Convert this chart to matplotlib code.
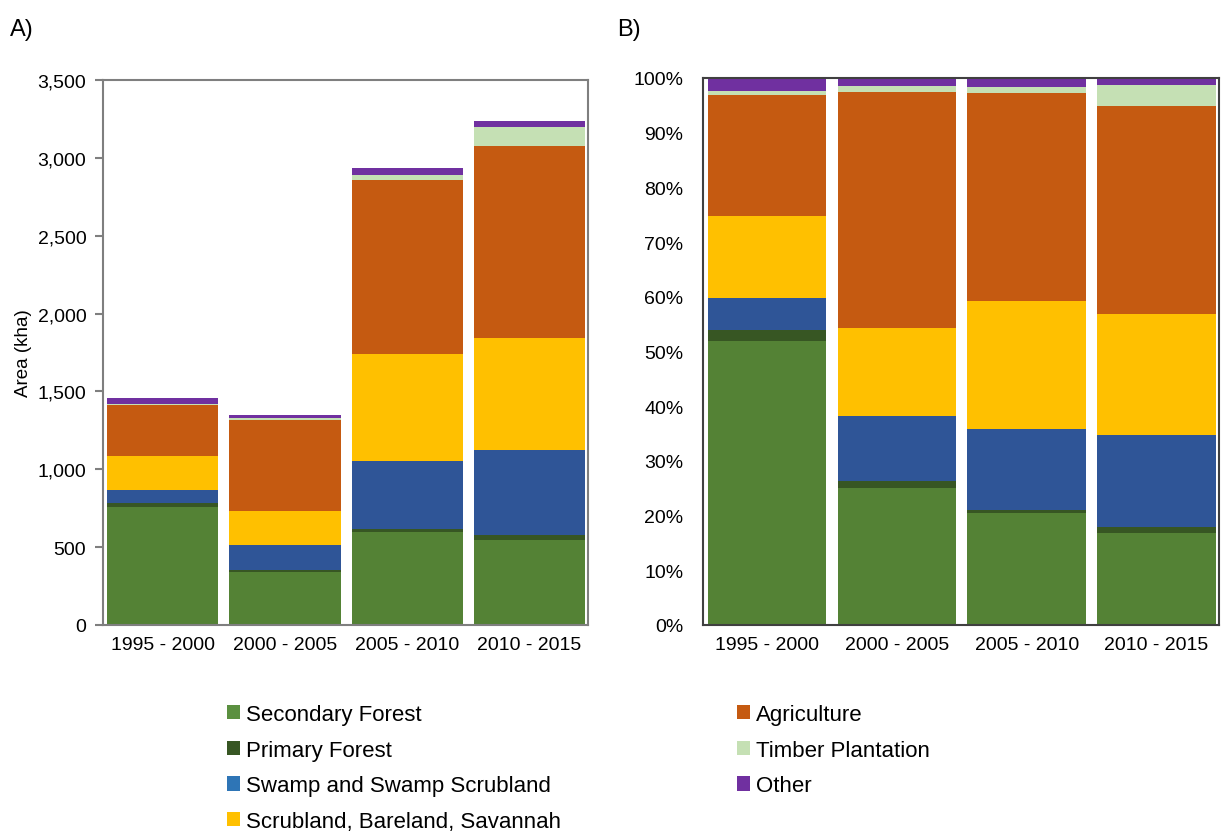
import numpy as np
import matplotlib.pyplot as plt
from matplotlib.patches import Patch
from matplotlib.ticker import FuncFormatter, PercentFormatter

plt.rcParams['font.family'] = ['Liberation Sans', 'DejaVu Sans']

# land cover converted per period (kha)
periods = ['1995 - 2000', '2000 - 2005', '2005 - 2010', '2010 - 2015']
secondary_forest = [755, 338, 600, 543]
primary_forest = [30, 17, 15, 38]
swamp = [85, 160, 440, 542]
scrubland = [218, 218, 685, 718]
agriculture = [323, 582, 1118, 1233]
timber = [10, 15, 33, 125]
other = [35, 20, 47, 40]

names = ['Secondary Forest', 'Primary Forest', 'Swamp and Swamp Scrubland',
         'Scrubland, Bareland, Savannah', 'Agriculture', 'Timber Plantation', 'Other']
series = [secondary_forest, primary_forest, swamp, scrubland, agriculture, timber, other]
colors = ['#548235', '#375623', '#2f5597', '#ffc000', '#c55a11', '#c5e0b4', '#7030a0']
legend_colors = ['#5b9040', '#375623', '#2e75b6', '#ffc000', '#c55a11', '#c5e0b4', '#7030a0']

data = np.array(series, dtype=float)
share = data / data.sum(axis=0) * 100

fig = plt.figure(figsize=(12.23, 8.37), dpi=100)
axA = fig.add_axes([103 / 1223, 1 - 626 / 837, 485 / 1223, 545 / 837])
axB = fig.add_axes([703 / 1223, 1 - 626 / 837, 516 / 1223, 547 / 837])

x = np.arange(len(periods))
w = 0.91

for ax, vals in [(axA, data), (axB, share)]:
    bottom = np.zeros(len(periods))
    for v, c in zip(vals, colors):
        ax.bar(x, v, w, bottom=bottom, color=c, linewidth=0)
        bottom += v
    ax.set_xticks(x)
    ax.set_xticklabels(periods, fontsize=14)
    ax.set_xlim(-0.49, 3.48)
    ax.tick_params(axis='x', length=0, pad=8)

# A) absolute area
axA.set_ylim(0, 3500)
axA.set_yticks(np.arange(0, 3501, 500))
axA.yaxis.set_major_formatter(FuncFormatter(lambda v, p: f'{int(v):,}'))
axA.tick_params(axis='y', labelsize=14, length=6, width=1.5, color='#7f7f7f', pad=6)
axA.set_ylabel('Area (kha)', fontsize=13.5, labelpad=4)
for s in axA.spines.values():
    s.set_color('#7f7f7f')
    s.set_linewidth(1.5)

# B) share of total
axB.set_ylim(0, 100)
axB.set_yticks(np.arange(0, 101, 10))
axB.yaxis.set_major_formatter(PercentFormatter(decimals=0))
axB.tick_params(axis='y', labelsize=14, length=0, pad=14)
for s in axB.spines.values():
    s.set_color('#404040')
    s.set_linewidth(1.5)

fig.text(10 / 1223, 1 - 30 / 837, 'A)', fontsize=17, va='center')
fig.text(617 / 1223, 1 - 30 / 837, 'B)', fontsize=17, va='center')

handles = [Patch(facecolor=c, edgecolor='none', label=n) for c, n in zip(legend_colors, names)]
leg_kw = dict(frameon=False, fontsize=16, handlelength=0.6, handleheight=0.6,
              handletextpad=0.25, labelspacing=0.66, borderpad=0, borderaxespad=0,
              loc='upper left')
fig.legend(handles=handles[:4], bbox_to_anchor=(227 / 1223, 1 - 705 / 837), **leg_kw)
fig.legend(handles=handles[4:], bbox_to_anchor=(737 / 1223, 1 - 705 / 837), **leg_kw)

fig.savefig('out.png', dpi=100)
